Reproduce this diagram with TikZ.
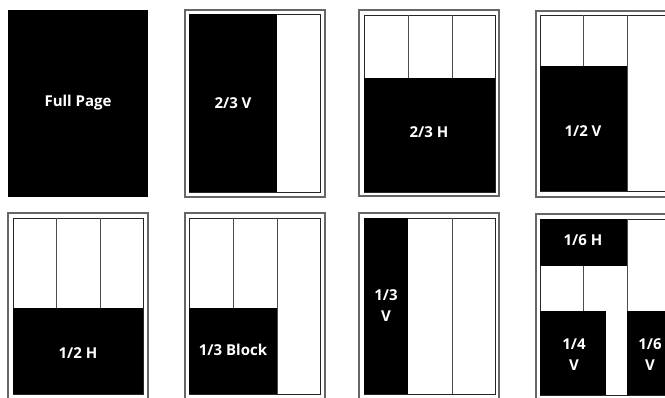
\documentclass[tikz,border=0pt]{standalone}
\usepackage{fontspec}
\setmainfont{Open Sans}
\begin{document}
\begin{tikzpicture}[x=1pt,y=-1pt,
  outerframe/.style={draw=black!60,line width=1.2pt},
  innerframe/.style={draw=black!85,line width=1pt},
  colline/.style={draw=black!70,line width=1pt},
  blk/.style={fill=black},
  lbl/.style={text=white,font=\bfseries\fontsize{15}{21}\selectfont,align=center,inner sep=0pt}]
\useasboundingbox (0,0) rectangle (665,397);
\clip (0,0) rectangle (665,397);
% Panel 1
\fill[blk] (8,10) rectangle (148,197);
\node[lbl] (full) at (78,103) {Full Page};
% Panel 2
\draw[outerframe] (185,10) rectangle (325,197);
\draw[innerframe] (189,14) rectangle (320,192);
\fill[blk] (189,14) rectangle (277,192);
\node[lbl] (twothirdsv) at (233,103) {2/3 V};
% Panel 3
\draw[outerframe] (359,10) rectangle (499,196);
\draw[innerframe] (364,15) rectangle (495,192);
\draw[colline] (408,15) -- (408,78) (452,15) -- (452,78);
\fill[blk] (364,78) rectangle (495,192);
\node[lbl] (twothirdsh) at (429,132) {2/3 H};
% Panel 4
\draw[outerframe] (536,11) rectangle (676,197);
\draw[innerframe] (540,15) rectangle (671,191);
\draw[colline] (583,15) -- (583,66) (627,15) -- (627,191);
\fill[blk] (540,66) rectangle (627,191);
\node[lbl] (halfv) at (583,131) {1/2 V};
% Panel 5
\draw[outerframe] (8,213) rectangle (148,402);
\draw[innerframe] (13,218) rectangle (143,394);
\draw[colline] (56,218) -- (56,308) (100,218) -- (100,308);
\fill[blk] (13,308) rectangle (143,394);
\node[lbl] (halfh) at (78,353) {1/2 H};
% Panel 6
\draw[outerframe] (185,213) rectangle (325,402);
\draw[innerframe] (189,218) rectangle (320,394);
\draw[colline] (233,218) -- (233,308) (277,218) -- (277,394);
\fill[blk] (189,308) rectangle (277,394);
\node[lbl] (thirdblock) at (233,350) {1/3 Block};
% Panel 7
\draw[outerframe] (359,213) rectangle (499,402);
\draw[innerframe] (364,218) rectangle (495,394);
\draw[colline] (452,218) -- (452,394);
\fill[blk] (364,218) rectangle (408,394);
\node[lbl] (thirdv) at (386,306) {1/3\\V};
% Panel 8
\draw[outerframe] (536,214) rectangle (676,402);
\draw[innerframe] (540,219) rectangle (671,395);
\draw[colline] (583,266) -- (583,311) (627,219) -- (627,311);
\fill[blk] (540,219) rectangle (627,266);
\fill[blk] (540,311) rectangle (606,395);
\fill[blk] (627,311) rectangle (671,395);
\node[lbl] (sixthh) at (583,240) {1/6 H};
\node[lbl] (quarterv) at (574,355) {1/4\\V};
\node[lbl] (sixthv) at (650,355) {1/6\\V};
\end{tikzpicture}
\end{document}
